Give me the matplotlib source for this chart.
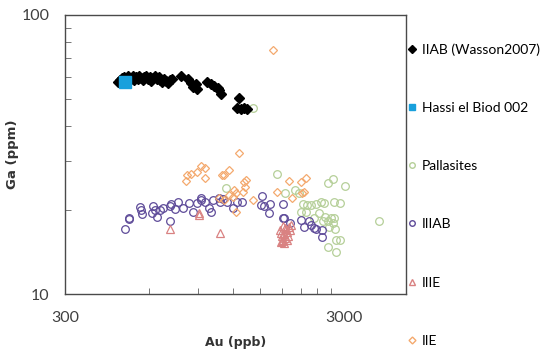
import matplotlib.pyplot as plt
from matplotlib.ticker import FixedLocator, NullFormatter
from matplotlib.lines import Line2D

plt.rcParams['font.family'] = ['Lato', 'DejaVu Sans']

# IIAB (Wasson2007)
iiab_au = [464, 472, 479, 487, 495, 504, 508, 516, 525, 529, 538, 547, 551, 561, 570, 574,
           584, 594, 603, 608, 619, 629, 639, 650, 655, 666, 677, 689, 700, 711, 723,
           779, 825, 845, 860, 881, 895, 965, 997, 1022, 1056, 1073, 1091, 1265, 1245, 1286, 1318, 1351]
iiab_ga = [57.5, 58.5, 59.5, 60.0, 59.0, 60.4, 58.0, 59.5, 60.4, 58.5, 60.0, 59.0, 60.4, 59.5, 58.5, 60.0,
           60.4, 59.0, 60.0, 58.0, 59.5, 60.4, 59.0, 60.0, 58.5, 57.5, 59.0, 58.0, 57.0, 58.5, 59.0,
           60.4, 59.0, 57.0, 55.2, 56.6, 54.3, 57.5, 56.6, 55.6, 54.7, 53.9, 52.1, 50.4, 46.4, 46.0, 46.4, 46.0]

# Hassi el Biod 002
hassi_au = [491]
hassi_ga = [57.3]

# Pallasites
pal_au = [1412, 1134, 1719, 1847, 2005, 2072, 2218, 2186, 2279, 2388, 2472, 2545, 2637, 2745, 2763,
          2903, 3020, 2442, 2566, 2623, 2690, 2745, 2763, 2786, 2800, 2903, 2637, 2818, 3999, 2525,
          2098, 2344, 2652, 2140]
pal_ga = [46.3, 24.0, 26.9, 23.0, 23.6, 23.0, 20.8, 19.7, 20.8, 21.1, 21.4, 21.2, 24.9, 25.8, 21.4,
          21.2, 24.4, 19.5, 18.9, 18.3, 18.7, 17.9, 18.7, 17.1, 15.6, 15.6, 14.7, 14.1, 18.3, 18.2,
          19.7, 18.7, 17.4, 21.0]

# IIIAB
iiiab_au = [491, 507, 508, 556, 564, 561, 620, 617, 629, 640, 655, 673, 711, 716, 720, 741, 762, 795,
            833, 860, 894, 918, 922, 952, 988, 1000, 1015, 1073, 1078, 1102, 1146, 1199, 1237, 1293,
            1525, 1516, 1554, 1632, 1620, 1815, 1808, 1831, 1924, 2098, 2159, 2249, 2279, 2344, 2497,
            2497, 2376]
iiiab_ga = [17.1, 18.5, 18.8, 20.5, 19.4, 20.0, 20.7, 19.5, 20.0, 18.9, 20.0, 20.3, 20.6, 18.3, 21.1,
            20.1, 21.3, 20.4, 21.2, 19.6, 21.2, 22.0, 21.7, 21.4, 20.4, 19.7, 21.7, 22.1, 21.4, 21.9,
            21.4, 20.3, 21.3, 21.4, 22.5, 20.8, 20.7, 21.0, 19.5, 21.1, 18.7, 18.7, 17.9, 18.4, 17.4,
            18.2, 17.7, 17.2, 17.0, 16.0, 17.1]

# IIIE
iiie_au = [711, 903, 903, 1078, 1787, 1817, 1847, 1802, 1831, 1878, 1772, 1862, 1908, 1940, 1817,
           1847, 1893, 1802, 1831, 1924, 1878, 1787]
iiie_ga = [17.1, 19.2, 19.5, 16.5, 15.4, 15.6, 15.9, 16.1, 16.4, 16.7, 17.0, 17.1, 17.4, 17.7, 17.5,
           17.2, 16.1, 15.5, 15.2, 17.0, 15.6, 16.5]

# IIE
iie_au = [1673, 618, 1265, 816, 821, 848, 889, 919, 951, 951, 1099, 1118, 1165, 1318, 1340, 1329,
          1214, 1231, 1199, 1165, 1073, 1110, 1231, 1412, 1719, 1908, 2098, 2186, 2118, 1945, 2159, 1298]
iie_ga = [74.9, 59.2, 32.1, 25.4, 26.7, 26.9, 27.4, 28.8, 28.2, 26.1, 26.7, 26.7, 27.8, 25.3, 25.6, 24.2,
          23.6, 23.0, 22.3, 22.6, 22.0, 21.7, 19.7, 21.7, 23.3, 25.4, 25.1, 26.0, 23.1, 22.0, 23.3, 23.3]

labels = ['IIAB (Wasson2007)', 'Hassi el Biod 002', 'Pallasites', 'IIIAB', 'IIIE', 'IIE']

c_pal = '#b5cf98'
c_iiiab = '#5e4b99'
c_iiie = '#d98282'
c_iie = '#f4a96e'
c_hassi = '#18a0dc'

fig = plt.figure(figsize=(5.42, 3.5), dpi=100)
ax = fig.add_axes([65 / 542, 56 / 350, 341 / 542, 279 / 350])

open_kw = dict(linestyle='none', markerfacecolor='none', markersize=5.5, markeredgewidth=0.9)
ax.plot(pal_au, pal_ga, 'o', color=c_pal, **open_kw)
ax.plot(iiiab_au, iiiab_ga, 'o', color=c_iiiab, **open_kw)
ax.plot(iiie_au, iiie_ga, '^', color=c_iiie, **open_kw)
ax.plot(iie_au, iie_ga, 'D', color=c_iie, **dict(open_kw, markersize=4.5))
ax.plot(iiab_au, iiab_ga, 'D', color='black', linestyle='none', markersize=5.5)
ax.plot(hassi_au, hassi_ga, 's', color=c_hassi, linestyle='none', markersize=9)

ax.set_xscale('log')
ax.set_yscale('log')
ax.set_xlim(300, 5000)
ax.set_ylim(10, 100)

ax.xaxis.set_major_locator(FixedLocator([300, 3000]))
ax.xaxis.set_minor_locator(FixedLocator([600, 900, 1200, 1500, 1800, 2100, 2400, 2700]))
ax.set_xticklabels(['300', '3000'])
ax.xaxis.set_minor_formatter(NullFormatter())
ax.yaxis.set_major_locator(FixedLocator([10, 100]))
ax.yaxis.set_minor_locator(FixedLocator([20, 30, 40, 50, 60, 70, 80, 90]))
ax.set_yticklabels(['10', '100'])
ax.yaxis.set_minor_formatter(NullFormatter())

ax.tick_params(which='major', length=0, labelsize=11.5, colors='#404040')
ax.tick_params(axis='x', which='major', pad=12)
ax.tick_params(axis='y', which='major', pad=11)
ax.tick_params(which='minor', direction='in', length=4, color='#606060')
for s in ax.spines.values():
    s.set_color('#4a4a4a')
    s.set_linewidth(1)

ax.set_xlabel('Au (ppb)', fontsize=9, fontweight='bold', family='DejaVu Sans',
              color='#333333', labelpad=8)
ax.set_ylabel('Ga (ppm)', fontsize=9.5, fontweight='bold', family='DejaVu Sans',
              color='#333333', labelpad=2)

handles = [
    Line2D([], [], marker='D', color='black', linestyle='none', markersize=4),
    Line2D([], [], marker='s', color=c_hassi, linestyle='none', markersize=5),
    Line2D([], [], marker='o', color=c_pal, markerfacecolor='none', linestyle='none', markersize=4),
    Line2D([], [], marker='o', color=c_iiiab, markerfacecolor='none', linestyle='none', markersize=4),
    Line2D([], [], marker='^', color=c_iiie, markerfacecolor='none', linestyle='none', markersize=4),
    Line2D([], [], marker='D', color=c_iie, markerfacecolor='none', linestyle='none', markersize=3.5),
]
fig.legend(handles, labels, loc='upper left', bbox_to_anchor=(408 / 542, 1 - 43 / 350),
           frameon=False, fontsize=10, handlelength=0.6, handletextpad=0.4,
           labelspacing=3.33, borderaxespad=0, borderpad=0)

fig.savefig('out.png', dpi=100)
